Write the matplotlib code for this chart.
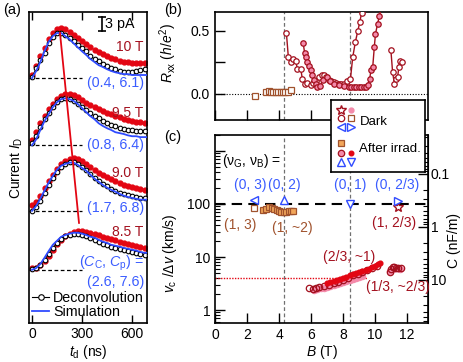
import numpy as np
import matplotlib
matplotlib.use('Agg')
import matplotlib.pyplot as plt
from matplotlib.lines import Line2D
from matplotlib.ticker import MultipleLocator, FixedLocator, FuncFormatter, LogLocator, NullFormatter

plt.rcParams['font.family'] = ['Liberation Sans', 'DejaVu Sans']
plt.rcParams['mathtext.fontset'] = 'custom'
plt.rcParams['mathtext.rm'] = 'Liberation Sans'
plt.rcParams['mathtext.it'] = 'Liberation Sans:italic'
plt.rcParams['mathtext.bf'] = 'Liberation Sans:bold'
plt.rcParams['font.size'] = 9.5

# ---------------- data: panel (a) ----------------
t_ns = [0, 25, 50, 75, 100, 125, 150, 175, 200, 225, 250, 275, 300, 325, 350,
        375, 400, 425, 450, 475, 500, 525, 550, 575, 600, 625, 650, 675, 700]
field_labels = ['10 T', '9.5 T', '9.0 T', '8.5 T']
cap_labels = ['(0.4, 6.1)', '(0.8, 6.4)', '(1.7, 6.8)', '(2.6, 7.6)']
# measured current (pA)
raw_10 = [0.7, 2.7, 4.9, 6.7, 8.7, 10.1, 11.0, 11.2, 11.0, 10.3, 9.6, 9.0, 8.3, 7.6, 6.9,
          6.3, 5.8, 5.4, 4.9, 4.5, 4.3, 3.8, 3.6, 3.6, 3.4, 3.4, 3.4, 3.4, 3.4]
raw_95 = [1.1, 2.9, 4.9, 6.5, 8.1, 9.2, 10.3, 11.0, 11.4, 11.4, 11.2, 10.8, 10.1, 9.4, 9.0,
          8.5, 8.1, 7.6, 7.2, 6.9, 6.5, 6.3, 5.8, 5.6, 5.4, 5.2, 5.2, 4.9, 4.9]
raw_90 = [1.3, 2.0, 3.4, 5.2, 6.7, 8.1, 9.4, 10.5, 11.2, 11.6, 11.9, 11.6, 11.2, 10.5, 9.9,
          9.2, 8.5, 8.1, 7.6, 7.2, 6.7, 6.3, 5.8, 5.6, 5.4, 5.2, 4.9, 4.7, 4.7]
raw_85 = [0.4, 0.4, 1.1, 2.0, 3.1, 4.5, 5.8, 6.7, 7.6, 8.1, 8.5, 8.7, 8.7, 8.5, 8.3,
          8.1, 7.8, 7.4, 7.2, 6.9, 6.7, 6.3, 6.0, 5.8, 5.6, 5.4, 5.2, 4.9, 4.7]
# deconvolution (pA)
dec_10 = [0.2, 2.2, 4.0, 5.6, 7.8, 9.2, 10.1, 10.1, 9.6, 9.0, 8.3, 7.4, 6.7, 6.0, 4.9,
          4.3, 3.8, 3.1, 2.7, 2.2, 2.0, 1.6, 1.3, 1.3, 1.3, 1.6, 1.8, 2.0, 2.0]
dec_95 = [0.4, 2.0, 4.0, 5.8, 7.2, 8.5, 9.6, 10.3, 10.5, 10.3, 9.9, 9.2, 8.5, 7.8, 7.2,
          6.5, 6.0, 5.4, 4.9, 4.5, 4.3, 3.8, 3.6, 3.4, 3.4, 3.1, 3.1, 3.1, 3.1]
dec_90 = [0.0, 0.9, 2.2, 4.0, 5.8, 7.4, 8.7, 9.9, 10.5, 11.0, 11.0, 10.5, 9.9, 9.2, 8.3,
          7.4, 6.7, 6.0, 5.6, 4.9, 4.5, 4.0, 3.8, 3.6, 3.4, 3.1, 2.9, 2.9, 2.9]
dec_85 = [0.2, 0.4, 1.1, 2.2, 3.6, 4.9, 6.0, 6.9, 7.6, 7.8, 8.1, 8.1, 7.8, 7.6, 7.2,
          6.7, 6.3, 5.8, 5.6, 5.2, 4.9, 4.7, 4.5, 4.3, 4.0, 3.8, 3.6, 3.4, 3.4]
# simulation (pA)
sim_10 = [0.0, 1.6, 3.6, 6.0, 8.1, 9.4, 10.1, 10.1, 9.4, 8.7, 7.8, 6.9, 6.0, 5.2, 4.3,
          3.6, 2.9, 2.5, 2.0, 1.6, 1.3, 1.1, 0.9, 0.9, 0.7, 0.7, 0.7, 0.7, 0.7]
sim_95 = [0.0, 1.3, 3.4, 5.4, 6.9, 8.5, 9.6, 10.3, 10.5, 10.3, 9.9, 9.2, 8.3, 7.4, 6.5,
          5.8, 4.9, 4.3, 3.8, 3.4, 2.9, 2.7, 2.5, 2.2, 2.0, 2.0, 1.8, 1.8, 1.8]
sim_90 = [0.0, 1.1, 2.7, 4.5, 6.3, 7.8, 9.2, 10.1, 10.5, 10.8, 10.8, 10.3, 9.6, 9.0, 8.1,
          7.2, 6.5, 5.8, 5.2, 4.7, 4.3, 3.8, 3.4, 3.1, 2.9, 2.7, 2.5, 2.5, 2.5]
sim_85 = [0.0, 0.4, 1.3, 2.7, 4.2, 5.6, 6.5, 7.4, 7.8, 8.1, 8.3, 8.3, 8.1, 7.8, 7.4,
          7.2, 6.7, 6.3, 6.0, 5.6, 5.4, 5.2, 4.9, 4.7, 4.5, 4.3, 4.0, 3.8, 3.8]
raw_all = [raw_10, raw_95, raw_90, raw_85]
dec_all = [dec_10, dec_95, dec_90, dec_85]
sim_all = [sim_10, sim_95, sim_90, sim_85]
offsets_pA = [54.8, 39.8, 25.1, 11.9]
peak_line_t = [168, 282]
peak_line_I = [64.9, 22.4]

# ---------------- data: panel (b) ----------------
B_b_dark1 = [4.46, 4.58, 4.73, 4.90, 5.04, 5.14, 5.35, 5.45, 5.60, 5.77, 5.97, 6.12, 6.28, 6.49,
             6.65, 6.80, 6.95, 7.10, 7.25, 7.42, 7.57, 7.73, 7.88, 8.04, 8.25, 8.46, 8.60,
             8.77, 8.91, 9.04, 9.15, 9.25]
R_b_dark1 = [0.48, 0.29, 0.25, 0.275, 0.26, 0.20, 0.20, 0.12, 0.08, 0.085, 0.07, 0.085, 0.10, 0.13,
             0.145, 0.15, 0.13, 0.11, 0.10, 0.09, 0.085, 0.08, 0.08, 0.08, 0.10, 0.12, 0.29,
             0.415, 0.495, 0.57, 0.64, 0.72]
B_b_dark3 = [10.98, 11.09, 11.20, 11.30, 11.40, 11.48, 11.55, 11.70]
R_b_dark3 = [0.35, 0.17, 0.08, 0.115, 0.13, 0.21, 0.26, 0.25]
B_b_irr = [5.51, 5.60, 5.70, 5.77, 5.88, 5.97, 6.08, 6.18, 6.28, 6.39, 6.55, 6.76, 6.97, 7.18,
           7.43, 7.73, 8.04, 8.35, 8.50, 8.66, 8.82, 8.97, 9.12, 9.28, 9.42, 9.54, 9.66, 9.74,
           9.85, 9.95, 10.02, 10.15, 10.27, 10.40]
R_b_irr = [0.40, 0.32, 0.29, 0.25, 0.22, 0.19, 0.15, 0.11, 0.08, 0.05, 0.06, 0.11, 0.13, 0.10,
           0.08, 0.07, 0.06, 0.05, 0.05, 0.05, 0.05, 0.05, 0.05, 0.05, 0.055, 0.07, 0.12, 0.185,
           0.215, 0.375, 0.475, 0.555, 0.62, 0.70]
B_b_sq = [2.5, 3.2, 3.35, 3.5, 3.65, 3.8, 3.95, 4.1, 4.25, 4.4, 4.55, 4.75]
R_b_sq = [-0.02, 0.01, 0.02, 0.015, 0.01, 0.01, 0.01, 0.01, 0.01, 0.01, 0.015, 0.025]

# ---------------- data: panel (c) ----------------
B_c_sq_dark = [2.43]
v_c_sq_dark = [84]
B_c_sq_irr = [3.0, 3.2, 3.4, 3.55, 3.7, 3.85, 4.0, 4.15, 4.3, 4.45, 4.6, 4.75, 4.9]
v_c_sq_irr = [78, 82, 86, 84, 80, 76, 73, 72, 72, 72, 73, 73, 74]
B_c_star = [11.4]
v_c_star = [88]
B_c_tri_left, v_c_tri_left = [2.43], [119]
B_c_tri_up, v_c_tri_up = [4.3], [120]
B_c_tri_down, v_c_tri_down = [8.45], [98]
B_c_tri_right, v_c_tri_right = [11.4], [112]
B_c_open = [5.9, 6.1, 6.3, 6.5, 6.8, 7.1, 7.4, 7.7, 8.0, 8.3, 8.6, 8.9, 9.2, 9.5, 9.8, 10.1,
            10.9, 11.0, 11.1, 11.2, 11.3, 11.45, 11.6]
v_c_open = [2.55, 2.5, 2.6, 2.7, 2.85, 3.0, 3.2, 3.4, 3.7, 4.1, 4.5, 4.8, 5.2, 5.6, 6.1, 6.8,
            5.3, 6.0, 6.5, 6.6, 6.3, 6.2, 6.1]
B_c_reddot = [7.0, 7.2, 7.4, 7.6, 7.8, 8.0, 8.2, 8.4, 8.6, 8.8, 9.0, 9.2, 9.4, 9.6, 9.8, 10.0,
              10.2, 10.3]
v_c_reddot = [3.2, 3.35, 3.5, 3.65, 3.8, 4.0, 4.2, 4.5, 4.7, 5.0, 5.2, 5.5, 5.7, 6.0, 6.4, 6.9,
              7.4, 7.6]
B_c_pink = [6.2, 6.4, 6.6, 6.8, 7.0, 7.2, 7.4, 7.6, 7.8, 8.0, 8.2, 8.4, 8.6, 8.8, 9.0, 9.2,
            10.95, 11.1, 11.25, 11.4, 11.55]
v_c_pink = [2.4, 2.45, 2.55, 2.65, 2.75, 2.85, 2.95, 3.05, 3.2, 3.35, 3.5, 3.7, 3.85, 4.0, 4.2, 4.4,
            5.5, 5.9, 6.1, 6.2, 6.0]
blue_labels = ['(0, 3)', '(0, 2)', '(0, 1)', '(0, 2/3)']

# ---------------- colours ----------------
RED = '#e30613'
DRED = '#a3101e'
BLUE = '#2f4bff'
TBLUE = '#3a5cff'
BROWN = '#a0522d'
ORANGE = '#f2a65a'
PINK = '#f48aaa'
GRAY = '#707070'

W, H = 463, 362
fig = plt.figure(figsize=(W / 100, H / 100), dpi=100)

def fx(px):
    return px / W

def fy(py):
    return 1 - py / H

TICK_FS = 9.5
LAB_FS = 10

# ================= panel (a) =================
axA = fig.add_axes([fx(29), fy(323), fx(147) - fx(29), fy(12) - fy(323)])
for i in range(4):
    off = offsets_pA[i]
    axA.plot(t_ns, np.array(raw_all[i]) + off, 'o', color=RED, ms=3.5, mec=RED, zorder=2)
    axA.plot(t_ns, np.array(dec_all[i]) + off, '-o', color='k', lw=0.7, ms=3.3, mfc='white',
             mec='k', mew=0.8, zorder=3)
    axA.plot(t_ns, np.array(sim_all[i]) + off, '-', color=BLUE, lw=1.3, zorder=4)
    axA.plot([-20, 300], [off, off], color='k', lw=0.9, ls=(0, (3, 2)), zorder=1)
axA.plot(peak_line_t, peak_line_I, color=RED, lw=1.3, zorder=5)
axA.set_xlim(-18, 690)
axA.set_ylim(0, 69.6)
axA.set_yticks([])
axA.xaxis.set_major_locator(FixedLocator([0, 300, 600]))
axA.tick_params(axis='x', direction='in', top=True, length=6, width=1, labelsize=TICK_FS + 0.5, pad=3)
for s in axA.spines.values():
    s.set_linewidth(1.2)
axA.set_xlabel('$t_\\mathrm{d}$ (ns)', fontsize=LAB_FS, labelpad=1)
axA.set_ylabel('Current $I_\\mathrm{D}$', fontsize=LAB_FS, labelpad=3)
label_y = [61.7, 47.0, 33.6, 20.4]
cap_y = [53.7, 39.8, 25.7, 9.2]
for i in range(4):
    axA.text(666, label_y[i], field_labels[i], color=DRED, ha='right', va='center', fontsize=10)
    axA.text(672, cap_y[i], cap_labels[i], color=TBLUE, ha='right', va='center', fontsize=10.3)
axA.text(672, 13.4, '($C_\\mathrm{C}$, $C_\\mathrm{p}$) =', color=TBLUE, ha='right', va='center',
         fontsize=10.3)
# scale bar 3 pA
axA.plot([418, 418], [65.4, 68.4], color='k', lw=1.2)
axA.plot([418, 418], [65.4, 68.4], '_', color='k', ms=6, mew=1.2)
axA.text(440, 66.9, '3 pA', ha='left', va='center', fontsize=10.3)
hA = [Line2D([], [], color='k', lw=0.8, marker='o', ms=4, mfc='white', mec='k', mew=0.8),
      Line2D([], [], color=BLUE, lw=1.3)]
axA.legend(hA, ['Deconvolution', 'Simulation'], loc='lower left', frameon=False, fontsize=10.3,
           handlelength=1.2, handletextpad=0.25, borderaxespad=0.1, borderpad=0.2, labelspacing=0.0,
           bbox_to_anchor=(-0.01, 0.0))

# ================= panel (b) =================
axB = fig.add_axes([fx(215), fy(120), fx(428) - fx(215), fy(12) - fy(120)])
axB.axhline(0, color='k', lw=0.8, ls=(0, (1, 1.5)), zorder=1)
for xv in (4.3, 8.45):
    axB.axvline(xv, color=GRAY, lw=0.9, ls=(0, (3, 2)), zorder=1)
axB.plot(B_b_dark1, R_b_dark1, '-o', color=DRED, lw=1, ms=3.9, mfc='white', mec=DRED, mew=0.9, zorder=3)
axB.plot(B_b_dark3, R_b_dark3, '-o', color=DRED, lw=1, ms=3.9, mfc='white', mec=DRED, mew=0.9, zorder=3)
axB.plot(B_b_irr, R_b_irr, '-o', color=DRED, lw=1, ms=3.9, mfc=PINK, mec=DRED, mew=0.9, zorder=4)
axB.plot(B_b_sq, R_b_sq, 's', ms=3.9, mfc='white', mec=BROWN, mew=0.9, zorder=3)
axB.set_xlim(0, 13.3)
axB.set_ylim(-0.21, 0.65)
axB.yaxis.set_major_locator(MultipleLocator(0.25))
axB.yaxis.set_major_formatter(FuncFormatter(lambda v, p: ('%.1f' % v) if abs(v * 2 - round(v * 2)) < 1e-6 else ''))
axB.xaxis.set_major_locator(MultipleLocator(2))
axB.tick_params(axis='both', direction='in', length=7, width=1, labelsize=TICK_FS + 0.5)
axB.tick_params(axis='x', labelbottom=False)
for s in axB.spines.values():
    s.set_linewidth(1.2)
axB.set_ylabel('$R_\\mathrm{xx}$ ($h$/$e^2$)', fontsize=LAB_FS)
axB.yaxis.set_label_coords(-0.17, 0.62)

# ================= panel (c) =================
axC = fig.add_axes([fx(215), fy(323), fx(428) - fx(215), fy(135) - fy(323)])
axC.set_yscale('log')
for xv in (4.3, 8.45):
    axC.axvline(xv, color=GRAY, lw=0.9, ls=(0, (3, 2)), zorder=1)
axC.axhline(100, color='k', lw=1.5, ls=(0, (5, 3)), zorder=2)
axC.plot([0, 9.5], [4, 4], color=RED, lw=1.0, ls=(0, (1, 1)), zorder=2)
axC.plot(B_c_pink, v_c_pink, 'o', ms=4.6, mfc=PINK, mec=PINK, mew=0.8, zorder=3)
axC.plot(B_c_open, v_c_open, 'o', ms=4.6, mfc='none', mec=DRED, mew=0.9, zorder=4)
axC.plot(B_c_reddot, v_c_reddot, 'o', ms=3.4, mfc=RED, mec=RED, zorder=5)
axC.plot(B_c_sq_irr, v_c_sq_irr, 's', ms=4.6, mfc=ORANGE, mec=BROWN, mew=0.9, zorder=4)
axC.plot(B_c_sq_dark, v_c_sq_dark, 's', ms=4.6, mfc='white', mec=BROWN, mew=0.9, zorder=4)
axC.plot(B_c_star, v_c_star, '*', ms=7.5, mfc='white', mec=DRED, mew=1, zorder=5)
axC.plot(B_c_tri_left, v_c_tri_left, '<', ms=5.5, mfc='white', mec=BLUE, mew=1, zorder=5)
axC.plot(B_c_tri_up, v_c_tri_up, '^', ms=5.5, mfc='white', mec=BLUE, mew=1, zorder=5)
axC.plot(B_c_tri_down, v_c_tri_down, 'v', ms=5.5, mfc='white', mec=BLUE, mew=1, zorder=5)
axC.plot(B_c_tri_right, v_c_tri_right, '>', ms=5.5, mfc='white', mec=BLUE, mew=1, zorder=5)
axC.set_xlim(0, 13.3)
axC.set_ylim(0.57, 2000)
axC.xaxis.set_major_locator(MultipleLocator(2))
axC.yaxis.set_major_locator(LogLocator(base=10, numticks=10))
axC.yaxis.set_minor_locator(LogLocator(base=10, subs=np.arange(2, 10), numticks=20))
axC.yaxis.set_minor_formatter(NullFormatter())
axC.yaxis.set_major_formatter(FuncFormatter(lambda v, p: ('%g' % v) if v < 500 else ''))
axC.tick_params(axis='both', which='major', direction='in', length=7, width=1, labelsize=TICK_FS + 0.5)
axC.tick_params(axis='y', which='minor', direction='in', length=3.5, width=0.8)
for s in axC.spines.values():
    s.set_linewidth(1.2)
axC.set_xlabel('$B$ (T)', fontsize=LAB_FS, labelpad=1)
axC.set_ylabel('$v_\\mathrm{c}$ /$\\Delta v$ (km/s)', fontsize=LAB_FS)
axC.yaxis.set_label_coords(-0.17, 0.37)

secC = axC.secondary_yaxis('right', functions=(lambda v: 37.0 / np.maximum(np.asarray(v, float), 1e-9),
                                               lambda c: 37.0 / np.maximum(np.asarray(c, float), 1e-9)))
secC.yaxis.set_major_locator(FixedLocator([0.1, 1, 10]))
secC.yaxis.set_minor_locator(FixedLocator(list(np.arange(0.02, 0.1, 0.01)) + list(np.arange(0.2, 1, 0.1))
                                          + list(np.arange(2, 10, 1)) + list(np.arange(20, 70, 10))))
secC.yaxis.set_major_formatter(FuncFormatter(lambda c, p: '%g' % c))
secC.yaxis.set_minor_formatter(NullFormatter())
secC.tick_params(axis='y', which='major', direction='in', length=7, width=1, labelsize=TICK_FS + 0.5, pad=2)
secC.tick_params(axis='y', which='minor', direction='in', length=3.5, width=0.8)
fig.text(fx(454), fy(241), 'C (nF/m)', rotation=90, ha='center', va='center', fontsize=LAB_FS)

# text annotations in (c)
axC.text(0.45, 640, '($\\mathrm{\\nu}_\\mathrm{G}$, $\\mathrm{\\nu}_\\mathrm{B}$) =', ha='left', va='center', fontsize=10)
blue_pos_B = [B_c_tri_left[0] - 0.25, B_c_tri_up[0], B_c_tri_down[0], B_c_tri_right[0]]
for lab, b in zip(blue_labels, blue_pos_B):
    axC.text(b, 168, lab, color=TBLUE, ha='center', va='bottom', fontsize=10)
axC.text(1.6, 40, '(1, 3)', color=BROWN, ha='center', va='center', fontsize=10)
axC.text(4.8, 36, '(1, ~2)', color=BROWN, ha='center', va='center', fontsize=10)
axC.text(11.2, 44, '(1, 2/3)', color=DRED, ha='center', va='center', fontsize=10)
axC.text(8.35, 10.2, '(2/3, ~1)', color=DRED, ha='center', va='center', fontsize=10)
axC.text(11.45, 2.7, '(1/3, ~2/3)', color=DRED, ha='center', va='center', fontsize=10)

# panel labels
fig.text(fx(3), fy(3), '(a)', ha='left', va='top', fontsize=10.5)
fig.text(fx(164), fy(3), '(b)', ha='left', va='top', fontsize=10.5)
fig.text(fx(164), fy(130), '(c)', ha='left', va='top', fontsize=10.5)

# ================= shared legend box =================
axL = fig.add_axes([fx(331), fy(172), fx(425) - fx(331), fy(100) - fy(172)])
axL.set_xlim(0, 94)
axL.set_ylim(72, 0)
axL.set_xticks([])
axL.set_yticks([])
axL.set_facecolor('white')
for s in axL.spines.values():
    s.set_linewidth(1.2)
kw = dict(ls='none', clip_on=False)
axL.plot([9.7], [10], '*', ms=7, mfc='white', mec=DRED, mew=1, **kw)
axL.plot([19.7], [10], 'o', ms=3.5, mfc=PINK, mec=PINK, **kw)
axL.plot([9.7], [18.3], 'o', ms=4.6, mfc='white', mec=DRED, mew=0.9, **kw)
axL.plot([19.7], [18.3], 's', ms=4.6, mfc='white', mec=BROWN, mew=0.9, **kw)
axL.plot([9.7], [26.7], '<', ms=5.2, mfc='white', mec=BLUE, mew=1, **kw)
axL.plot([19.7], [26.7], '>', ms=5.2, mfc='white', mec=BLUE, mew=1, **kw)
axL.plot([9.7], [43.3], 's', ms=4.6, mfc=ORANGE, mec=BROWN, mew=0.9, **kw)
axL.plot([9.7], [52.7], 'o', ms=4.6, mfc=PINK, mec=DRED, mew=0.9, **kw)
axL.plot([19.7], [52.7], 'o', ms=3.3, mfc=RED, mec=RED, **kw)
axL.plot([9.7], [61.7], '^', ms=5.2, mfc='white', mec=BLUE, mew=1, **kw)
axL.plot([19.7], [61.7], 'v', ms=5.2, mfc='white', mec=BLUE, mew=1, **kw)
axL.text(29, 21.7, 'Dark', ha='left', va='center', fontsize=9.5)
axL.text(28.3, 49.3, 'After irrad.', ha='left', va='center', fontsize=9.5)

fig.savefig('out.png', dpi=100)
